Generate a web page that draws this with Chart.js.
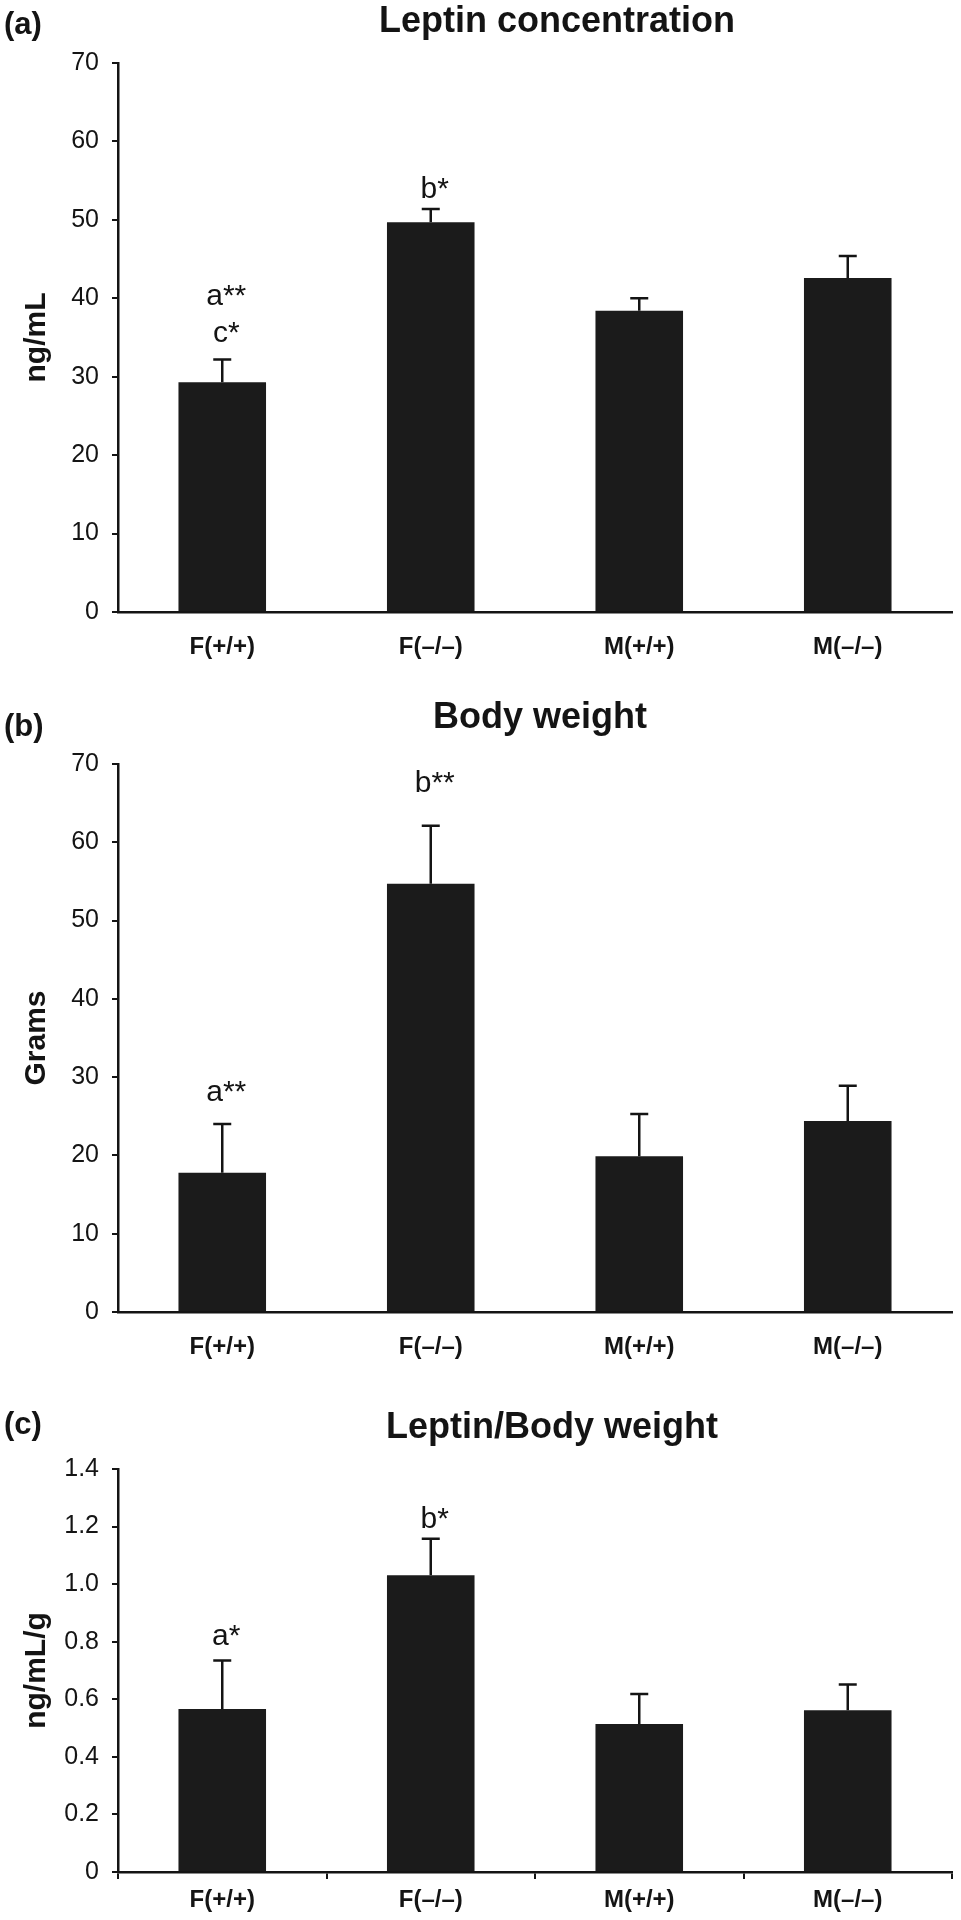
<!DOCTYPE html>
<html>
<head>
<meta charset="utf-8">
<script src="https://cdn.jsdelivr.net/npm/chart.js@4.4.1/dist/chart.umd.min.js"></script>
<style>
  body { margin: 0; background: #fff; }
  canvas { position: absolute; left: 0; }
</style>
</head>
<body>
<canvas id="chartA" width="961" height="670" style="top:0px"></canvas>
<canvas id="chartB" width="961" height="690" style="top:670px"></canvas>
<canvas id="chartC" width="961" height="560" style="top:1360px"></canvas>
<script>
// categories and values
const categories = ['F(+/+)', 'F(–/–)', 'M(+/+)', 'M(–/–)'];

const leptin = [29.3, 49.7, 38.4, 42.6];
const leptinErr = [2.9, 1.7, 1.6, 2.8];
const leptinMarks = [['a**', 'c*'], ['b*'], [], []];
const leptinMarkAt = [[39.2, 34.4], [52.8], [], []];

const bodyWeight = [17.8, 54.7, 19.9, 24.4];
const bodyWeightErr = [6.2, 7.4, 5.4, 4.5];
const bodyWeightMarks = [['a**'], ['b**'], [], []];
const bodyWeightMarkAt = [[26.9], [66.4], [], []];

const ratio = [0.566, 1.031, 0.514, 0.562];
const ratioErr = [0.169, 0.127, 0.104, 0.089];
const ratioMarks = [['a*'], ['b*'], [], []];
const ratioMarkAt = [[0.79], [1.195], [], []];

const ticksGrams = ['0', '10', '20', '30', '40', '50', '60', '70'];
const ticksRatio = ['0', '0.2', '0.4', '0.6', '0.8', '1.0', '1.2', '1.4'];

const FONT = '"Liberation Sans", Arial, Helvetica, sans-serif';
const INK = '#141414';

// titles, panel letters, y-axis title, error bars and significance marks
const panelDecor = {
    id: 'panelDecor',
    afterDatasetsDraw(chart, args, opts) {
        const ctx = chart.ctx;
        const y = chart.scales.y;
        const meta = chart.getDatasetMeta(0);
        const area = chart.chartArea;
        ctx.save();
        ctx.strokeStyle = INK;
        ctx.fillStyle = INK;
        ctx.lineWidth = 2.5;
        meta.data.forEach(function (bar, i) {
            const top = y.getPixelForValue(opts.values[i] + opts.errors[i]);
            ctx.beginPath();
            ctx.moveTo(bar.x, bar.y);
            ctx.lineTo(bar.x, top);
            ctx.moveTo(bar.x - 9, top);
            ctx.lineTo(bar.x + 9, top);
            ctx.stroke();
            ctx.font = '30px ' + FONT;
            ctx.textAlign = 'center';
            ctx.textBaseline = 'alphabetic';
            opts.marks[i].forEach(function (m, k) {
                ctx.fillText(m, bar.x + 4, y.getPixelForValue(opts.markAt[i][k]));
            });
        });

        ctx.textBaseline = 'alphabetic';
        ctx.font = 'bold 31px ' + FONT;
        ctx.textAlign = 'left';
        ctx.fillText(opts.letter, 4, opts.letterY);
        ctx.font = 'bold 36px ' + FONT;
        ctx.textAlign = 'center';
        ctx.fillText(opts.title, opts.titleX, opts.titleY);

        ctx.translate(37, (area.top + area.bottom) / 2);
        ctx.rotate(-Math.PI / 2);
        ctx.font = 'bold 30px ' + FONT;
        ctx.textBaseline = 'middle';
        ctx.fillText(opts.yTitle, 0, 0);
        ctx.restore();
    }
};

function makePanel(id, cfg) {
    const ctx = document.getElementById(id).getContext('2d');
    const h = ctx.canvas.height;
    return new Chart(ctx, {
        type: 'bar',
        data: {
            labels: categories,
            datasets: [{
                data: cfg.values,
                backgroundColor: '#1b1b1b',
                borderWidth: 0,
                categoryPercentage: 1,
                barPercentage: 0.42
            }]
        },
        options: {
            responsive: false,
            animation: false,
            devicePixelRatio: 1,
            layout: { padding: { top: cfg.top, right: 9, bottom: 0, left: 0 } },
            plugins: {
                legend: { display: false },
                tooltip: { enabled: false },
                panelDecor: cfg.decor
            },
            scales: {
                x: {
                    afterFit: function (s) { s.height = h - cfg.bottom; },
                    border: { display: true, color: INK, width: 2.5 },
                    grid: {
                        display: cfg.xTicks,
                        drawOnChartArea: false,
                        drawTicks: true,
                        tickLength: 7,
                        color: INK,
                        lineWidth: 2
                    },
                    ticks: {
                        color: INK,
                        padding: cfg.xTicks ? 7 : 14,
                        font: { family: FONT, size: 24, weight: 'bold' }
                    }
                },
                y: {
                    min: 0,
                    max: parseFloat(cfg.ticks[cfg.ticks.length - 1]),
                    afterFit: function (s) { s.width = 118; },
                    afterBuildTicks: function (s) {
                        s.ticks = cfg.ticks.map(function (t) { return { value: parseFloat(t) }; });
                    },
                    border: { display: true, color: INK, width: 2.5 },
                    grid: {
                        drawOnChartArea: false,
                        drawTicks: true,
                        tickLength: 6,
                        color: INK,
                        lineWidth: 2
                    },
                    ticks: {
                        color: INK,
                        padding: 13,
                        font: { family: FONT, size: 25 },
                        callback: function (v, i) { return cfg.ticks[i]; }
                    }
                }
            }
        },
        plugins: [panelDecor]
    });
}

makePanel('chartA', {
    values: leptin, ticks: ticksGrams, top: 63, bottom: 612, xTicks: false,
    decor: {
        values: leptin, errors: leptinErr, marks: leptinMarks, markAt: leptinMarkAt,
        letter: '(a)', letterY: 34, title: 'Leptin concentration', titleX: 557, titleY: 32,
        yTitle: 'ng/mL'
    }
});

makePanel('chartB', {
    values: bodyWeight, ticks: ticksGrams, top: 94, bottom: 642, xTicks: false,
    decor: {
        values: bodyWeight, errors: bodyWeightErr, marks: bodyWeightMarks, markAt: bodyWeightMarkAt,
        letter: '(b)', letterY: 66, title: 'Body weight', titleX: 540, titleY: 58,
        yTitle: 'Grams'
    }
});

makePanel('chartC', {
    values: ratio, ticks: ticksRatio, top: 109, bottom: 512, xTicks: true,
    decor: {
        values: ratio, errors: ratioErr, marks: ratioMarks, markAt: ratioMarkAt,
        letter: '(c)', letterY: 74, title: 'Leptin/Body weight', titleX: 552, titleY: 78,
        yTitle: 'ng/mL/g'
    }
});
</script>
</body>
</html>
